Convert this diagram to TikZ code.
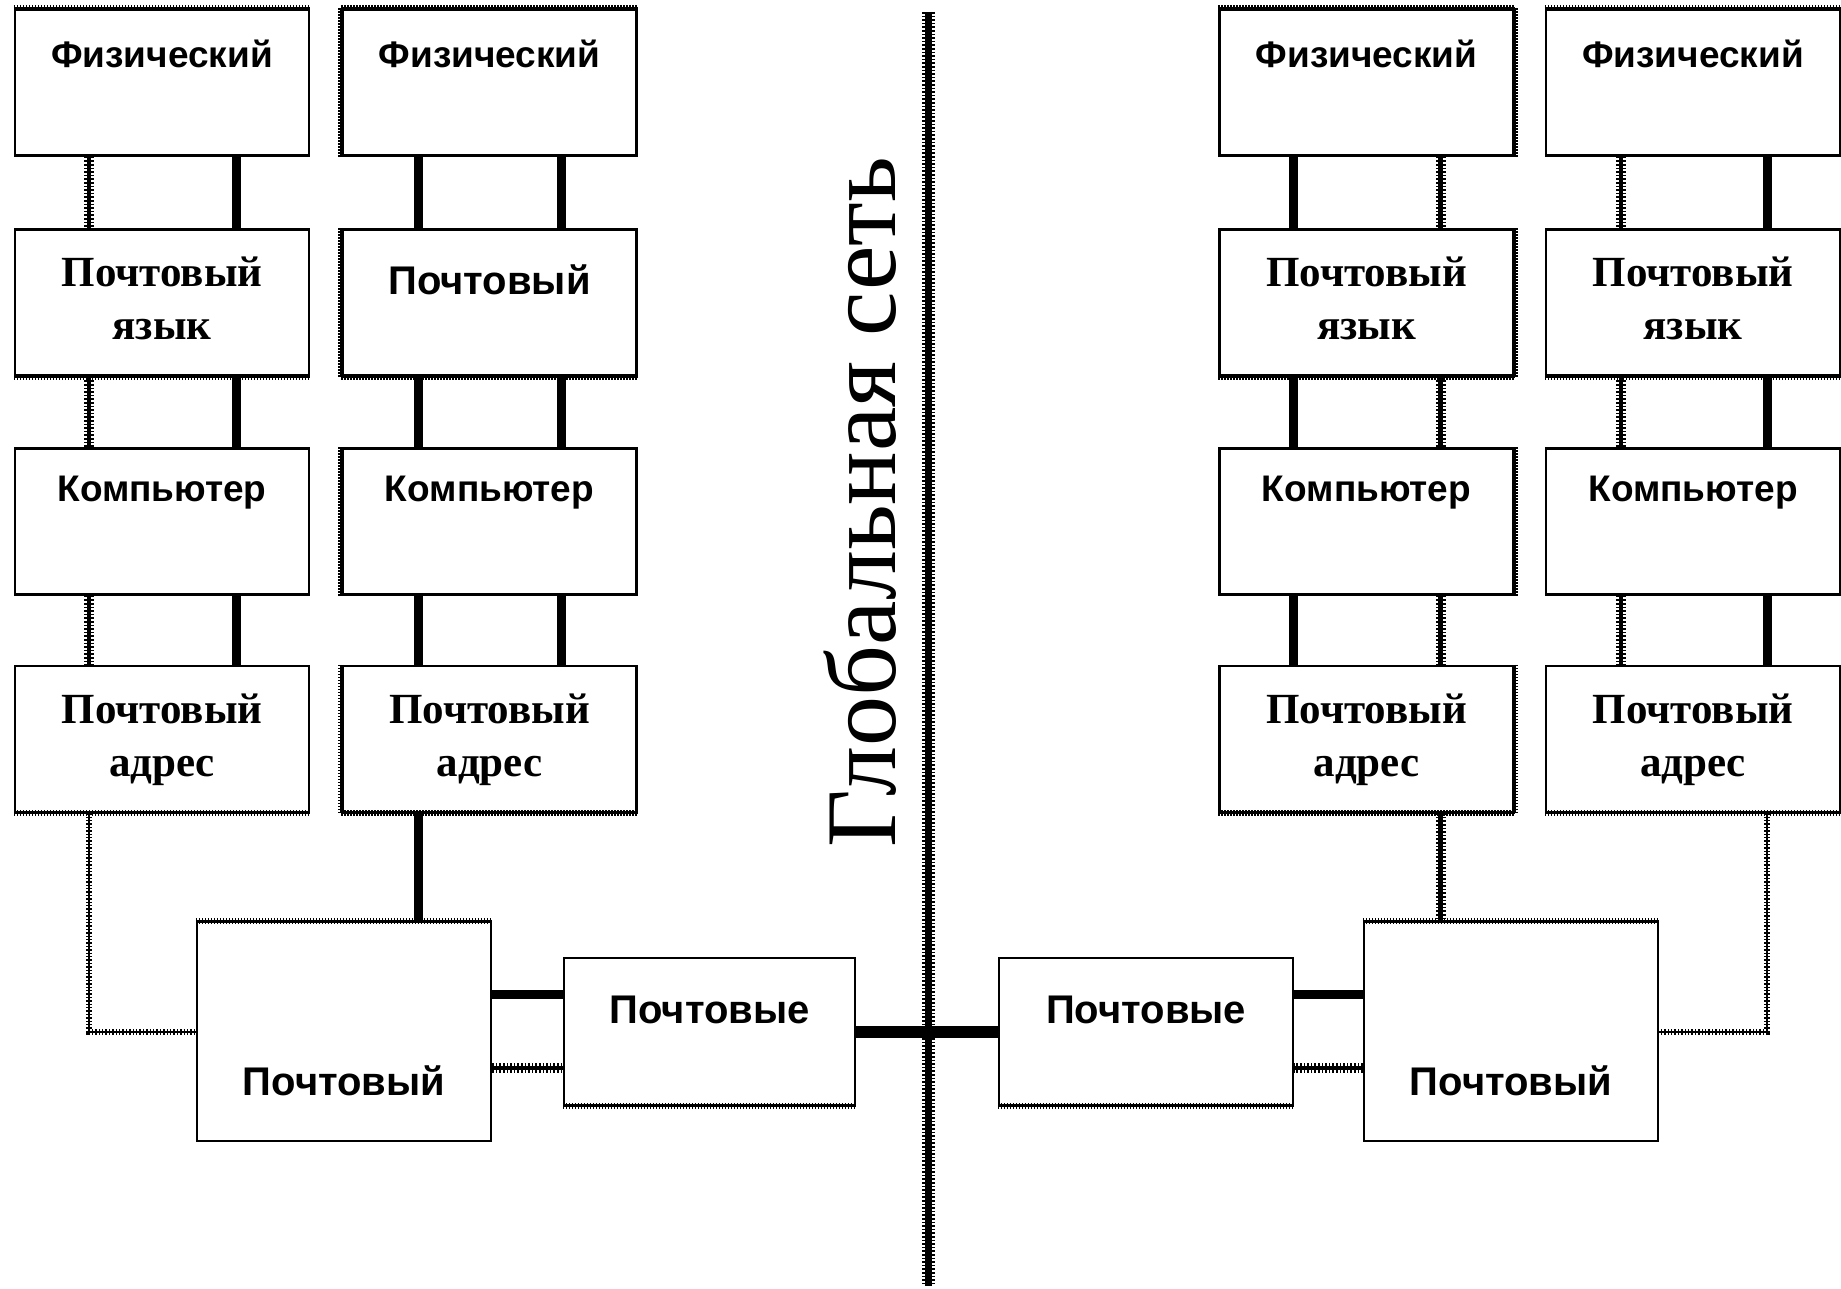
\documentclass[tikz,border=0pt]{standalone}
\usepackage{fontspec}
\setmainfont{Liberation Serif}
\newfontfamily\sansb{Liberation Sans}
\usetikzlibrary{calc}
\tikzset{
  box/.style={draw, line width=2.5pt, fill=white, minimum width=294pt, minimum height=146pt, inner sep=0pt},
  solidc/.style={line width=9pt},
  zip/.style={line width=4.5pt, preaction={draw, line width=10pt, dash pattern=on 1.6pt off 2pt}},
  zipthin/.style={line width=2pt, preaction={draw, line width=6pt, dash pattern=on 1.4pt off 2pt}},
  sedge/.style={line width=2pt, preaction={draw, line width=6pt, dash pattern=on 1.4pt off 1.6pt}},
  glob/.style={line width=7pt, preaction={draw, line width=13pt, dash pattern=on 1.6pt off 2pt}},
  thickc/.style={line width=12pt},
  sl/.style={font=\sansb\bfseries\fontsize{37}{39}\selectfont, inner sep=0pt, anchor=base},
  sp/.style={font=\sansb\bfseries\fontsize{40}{42}\selectfont, inner sep=0pt, anchor=base},
  rl/.style={font=\bfseries\fontsize{43}{45}\selectfont, inner sep=0pt, anchor=base},
}
\begin{document}
\begin{tikzpicture}[x=1pt,y=-1pt]
\useasboundingbox (0,0) rectangle (1841,1289);
% global network line
\coordinate (gtop) at (928,12);
\coordinate (gbot) at (928,1286);
\draw[glob] (gtop) -- (gbot);
\node[rotate=90, font=\fontsize{100}{100}\selectfont, inner sep=0pt] (title) at (860,502) {Глобальная сеть};
% column boxes
\foreach \c/\x in {1/162,2/489.5,3/1366.5,4/1693}{
  \node[box] (b\c1) at (\x,82.5) {};
  \node[box] (b\c2) at (\x,302.5) {};
  \node[box] (b\c3) at (\x,521.5) {};
  \node[box] (b\c4) at (\x,739) {};
}
% bottom boxes
\node[box, minimum height=219pt] (bigL) at (344,1031.5) {};
\node[box, minimum width=291pt, minimum height=147pt] (mailL) at (709.5,1031.5) {};
\node[box, minimum height=147pt] (mailR) at (1146,1031.5) {};
\node[box, minimum height=219pt] (bigR) at (1511,1031.5) {};
% serrated edges
\foreach \n in {b11,b21,b31,b41,bigL,bigR}{\draw[sedge] (\n.north west) -- (\n.north east);}
\foreach \n in {b12,b22,b32,b42,b14,b24,b34,b44,mailL,mailR}{\draw[sedge] (\n.south west) -- (\n.south east);}
\foreach \n in {b21,b22,b23,b24}{\draw[sedge] (\n.north west) -- (\n.south west);}
\foreach \n in {b31,b32,b33,b34}{\draw[sedge] (\n.north east) -- (\n.south east);}
% labels
\foreach \c in {1,2,3,4}{
  \node[sl] (f\c) at ($(b\c1.north)+(0,59)$) {Физический};
  \node[sl] (k\c) at ($(b\c3.north)+(0,54)$) {Компьютер};
  \node[rl] (a\c) at ($(b\c4.north)+(0,59)$) {Почтовый};
  \node[rl] (aa\c) at ($(b\c4.north)+(0,112)$) {адрес};
}
\foreach \c in {1,3,4}{
  \node[rl] (y\c) at ($(b\c2.north)+(0,58)$) {Почтовый};
  \node[rl] (yy\c) at ($(b\c2.north)+(0,111)$) {язык};
}
\node[sp] (y2) at ($(b22.north)+(0,66)$) {Почтовый};
\node[sp] (pL) at ($(bigL.north)+(0,175)$) {Почтовый};
\node[sp] (pR) at ($(bigR.north)+(0,175)$) {Почтовый};
\node[sp] (mL) at ($(mailL.north)+(0,67)$) {Почтовые};
\node[sp] (mR) at ($(mailR.north)+(0,67)$) {Почтовые};
% vertical connectors
\foreach \r/\s in {1/2,2/3,3/4}{
  \draw[zip] ([xshift=-73pt]b1\r.south) -- ([xshift=-73pt]b1\s.north);
  \draw[solidc] ([xshift=74pt]b1\r.south) -- ([xshift=74pt]b1\s.north);
  \draw[solidc] ([xshift=-71pt]b2\r.south) -- ([xshift=-71pt]b2\s.north);
  \draw[solidc] ([xshift=72pt]b2\r.south) -- ([xshift=72pt]b2\s.north);
  \draw[solidc] ([xshift=-73pt]b3\r.south) -- ([xshift=-73pt]b3\s.north);
  \draw[zip] ([xshift=74pt]b3\r.south) -- ([xshift=74pt]b3\s.north);
  \draw[zip] ([xshift=-72pt]b4\r.south) -- ([xshift=-72pt]b4\s.north);
  \draw[solidc] ([xshift=74pt]b4\r.south) -- ([xshift=74pt]b4\s.north);
}
% bottom connections
\draw[zipthin] ([xshift=-73pt]b14.south) |- (bigL.west);
\draw[solidc] ([xshift=-71pt]b24.south) -- ([xshift=-71pt]b24.south |- bigL.north);
\draw[solidc] ([yshift=37.5pt]bigL.east) -- ([yshift=37.5pt]bigL.east -| mailL.west);
\draw[zip] ([yshift=-36.5pt]bigL.east) -- ([yshift=-36.5pt]bigL.east -| mailL.west);
\draw[thickc] (mailL.east) -- (mailR.west);
\draw[zip] ([xshift=74pt]b34.south) -- ([xshift=74pt]b34.south |- bigR.north);
\draw[zipthin] ([xshift=74pt]b44.south) |- (bigR.east);
\draw[solidc] ([yshift=37.5pt]bigR.west) -- ([yshift=37.5pt]bigR.west -| mailR.east);
\draw[zip] ([yshift=-36.5pt]bigR.west) -- ([yshift=-36.5pt]bigR.west -| mailR.east);
\end{tikzpicture}
\end{document}
